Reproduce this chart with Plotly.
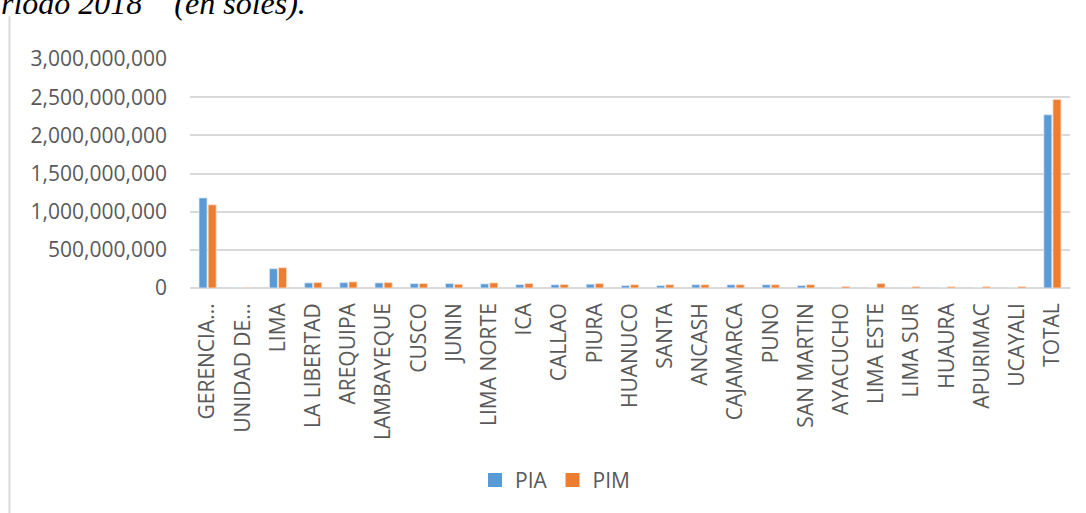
import plotly.graph_objects as go

categories = ["GERENCIA...", "UNIDAD DE...", "LIMA", "LA LIBERTAD", "AREQUIPA", "LAMBAYEQUE",
              "CUSCO", "JUNIN", "LIMA NORTE", "ICA", "CALLAO", "PIURA", "HUANUCO", "SANTA",
              "ANCASH", "CAJAMARCA", "PUNO", "SAN MARTIN", "AYACUCHO", "LIMA ESTE", "LIMA SUR",
              "HUAURA", "APURIMAC", "UCAYALI", "TOTAL"]

pia = [1180000000, 2000000, 253000000, 67000000, 71000000, 67000000,
       58000000, 58000000, 54000000, 45000000, 43000000, 50000000, 32000000, 32000000,
       43000000, 43000000, 43000000, 32000000, 0, 0, 0,
       0, 0, 0, 2270000000]

pim = [1090000000, 3000000, 266000000, 71000000, 80000000, 71000000,
       58000000, 49000000, 67000000, 58000000, 45000000, 57000000, 43000000, 43000000,
       43000000, 43000000, 43000000, 43000000, 20000000, 57000000, 18000000,
       16000000, 17000000, 18000000, 2470000000]

y_ticks = [0, 500000000, 1000000000, 1500000000, 2000000000, 2500000000, 3000000000]

series_names = ["PIA", "PIM"]
series_colors = ["#5B9BD5", "#ED7D31"]
series_edges = ["#DCE9F6", "#FBE0CE"]

FONT = "Open Sans"
TXT = "#595959"

fig = go.Figure()
for name, vals, col, edge in zip(series_names, [pia, pim], series_colors, series_edges):
    fig.add_trace(go.Bar(name=name, x=categories, y=vals, showlegend=False,
                         marker=dict(color=col, line=dict(color=edge, width=0.8))))
# legend entries with square swatches
for name, col in zip(series_names, series_colors):
    fig.add_trace(go.Scatter(name=name, x=[None], y=[None], mode="markers",
                             marker=dict(symbol="square", size=14, color=col),
                             showlegend=True))

L, R, T, B = 190, 16, 59, 223
W, H = 1086, 513
pw, ph = W - L - R, H - T - B

def px(x):
    return (x - L) / pw

def py(y):
    return (H - B - y) / ph

fig.update_layout(
    width=W, height=H,
    margin=dict(l=L, r=R, t=T, b=B, pad=0),
    paper_bgcolor="white", plot_bgcolor="white",
    barmode="group", bargap=0.48, bargroupgap=0.12,
    font=dict(family=FONT, size=20, color=TXT),
    showlegend=True,
    legend=dict(orientation="h", x=px(555), xanchor="center", y=py(484), yanchor="middle",
                font=dict(family=FONT, size=21, color=TXT), itemwidth=30,
                traceorder="normal", bgcolor="rgba(0,0,0,0)"),
    xaxis=dict(tickangle=-90, tickfont=dict(family=FONT, size=21, color=TXT),
               showgrid=False, showline=False, ticks="", automargin=False,
               ticklabelstandoff=10),
    yaxis=dict(range=[0, 3000000000], tickvals=y_ticks, tickformat=",d",
               tickfont=dict(family=FONT, size=21, color=TXT),
               showgrid=True, gridcolor="#D9D9D9", gridwidth=1.5,
               zeroline=True, zerolinecolor="#D9D9D9", zerolinewidth=2,
               showline=False, ticks="", ticklabelstandoff=22, automargin=False),
    shapes=[dict(type="line", xref="paper", yref="paper", x0=px(9.5), x1=px(9.5),
                 y0=py(16), y1=py(520), line=dict(color="#D9D9D9", width=2))],
    annotations=[dict(text="<i>riodo 2018\u00a0\u00a0\u00a0 (en soles).</i>",
                      xref="paper", yref="paper", x=px(-1), y=py(3), xanchor="left",
                      yanchor="middle", showarrow=False,
                      font=dict(family="Liberation Serif", size=32, color="#000000"))],
)

fig.write_html("out.html")
